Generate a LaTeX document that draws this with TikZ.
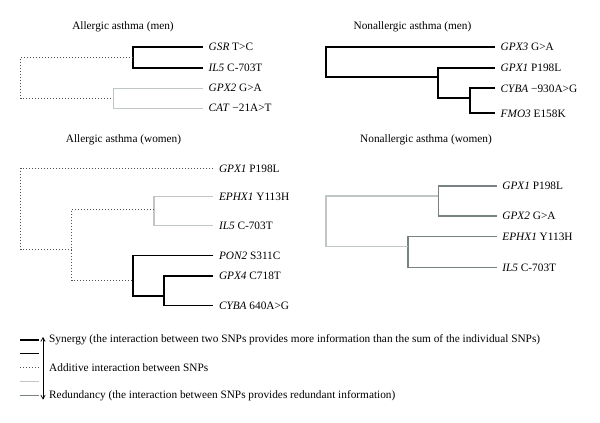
\documentclass[tikz,border=0pt]{standalone}
\usepackage{fontspec}
\setmainfont{Liberation Serif}
\usepackage{tikz}
\usetikzlibrary{arrows}

\definecolor{lightgrey}{RGB}{192,198,198}
\definecolor{midgrey}{RGB}{120,130,130}
\definecolor{dotgrey}{RGB}{80,80,80}

\begin{document}
\begin{tikzpicture}[x=1pt,y=-1pt,
  syn/.style={black,line width=1.9pt},
  weak/.style={black,line width=1pt},
  addit/.style={dotgrey,line width=1pt,dotted},
  redlight/.style={lightgrey,line width=1.4pt},
  redmid/.style={midgrey,line width=1.4pt},
  snp/.style={anchor=west,inner xsep=5.5pt,inner ysep=0pt,font=\fontsize{11.3}{13.5}\selectfont},
  ttl/.style={inner sep=0pt,font=\fontsize{11.3}{13.5}\selectfont},
  >=angle 60]
\useasboundingbox (0,0) rectangle (600,423);

% Allergic asthma (men)
\node[ttl] (amtitle) at (123,27) {Allergic asthma (men)};
\node[snp] (amgsr) at (203,47.3) {\textit{GSR} T>C};
\node[snp] (amil5) at (203,67.7) {\textit{IL5} C-703T};
\node[snp] (amgpx2) at (203,88.3) {\textit{GPX2} G>A};
\node[snp] (amcat) at (203,108.3) {\textit{CAT} −21A>T};
\coordinate (am1) at (133.3,57.5);
\coordinate (am2) at (113.3,98.3);
\coordinate (am0) at (20.7,78);
\draw[syn] (amgsr.west) -| (am1) |- (amil5.west);
\draw[redlight] (amgpx2.west) -| (am2) |- (amcat.west);
\draw[addit] (am1) -| (am0) |- (am2);

% Nonallergic asthma (men)
\node[ttl] (nmtitle) at (412.5,27) {Nonallergic asthma (men)};
\node[snp] (nmgpx3) at (495,47.3) {\textit{GPX3} G>A};
\node[snp] (nmgpx1) at (495,67.7) {\textit{GPX1} P198L};
\node[snp] (nmcyba) at (495,88.3) {\textit{CYBA} −930A>G};
\node[snp] (nmfmo3) at (495,113.3) {\textit{FMO3} E158K};
\coordinate (nm3) at (470,98.3);
\coordinate (nm2) at (438.3,77.3);
\coordinate (nm0) at (326,62);
\draw[syn] (nmcyba.west) -| (nm3) |- (nmfmo3.west);
\draw[syn] (nmgpx1.west) -| (nm2) |- (nm3);
\draw[syn] (nmgpx3.west) -| (nm0) |- (nm2);

% Allergic asthma (women)
\node[ttl] (awtitle) at (123.5,140) {Allergic asthma (women)};
\node[snp] (awgpx1) at (213.3,168.3) {\textit{GPX1} P198L};
\node[snp] (awephx1) at (213.3,196.5) {\textit{EPHX1} Y113H};
\node[snp] (awil5) at (213.3,225.5) {\textit{IL5} C-703T};
\node[snp] (awpon2) at (213.3,255.5) {\textit{PON2} S311C};
\node[snp] (awgpx4) at (213.3,276) {\textit{GPX4} C718T};
\node[snp] (awcyba) at (213.3,305.5) {\textit{CYBA} 640A>G};
\coordinate (aw4) at (164,296);
\coordinate (aw3) at (133.3,280.7);
\coordinate (aw2) at (154,209.3);
\coordinate (aw1) at (71.7,249.3);
\coordinate (aw0) at (20.7,210);
\draw[syn] (awgpx4.west) -| (aw4) |- (awcyba.west);
\draw[syn] (awpon2.west) -| (aw3) |- (aw4);
\draw[redlight] (awephx1.west) -| (aw2) |- (awil5.west);
\draw[addit] (aw2) -| (aw1) |- (aw3);
\draw[addit] (awgpx1.west) -| (aw0) |- (aw1);

% Nonallergic asthma (women)
\node[ttl] (nwtitle) at (426,140) {Nonallergic asthma (women)};
\node[snp] (nwgpx1) at (496.7,186) {\textit{GPX1} P198L};
\node[snp] (nwgpx2) at (496.7,216) {\textit{GPX2} G>A};
\node[snp] (nwephx1) at (496.7,236.7) {\textit{EPHX1} Y113H};
\node[snp] (nwil5) at (496.7,267.3) {\textit{IL5} C-703T};
\coordinate (nw1) at (438.3,196);
\coordinate (nw2) at (408,246.7);
\coordinate (nw0) at (326,220);
\draw[redmid] (nwgpx1.west) -| (nw1) |- (nwgpx2.west);
\draw[redmid] (nwephx1.west) -| (nw2) |- (nwil5.west);
\draw[redlight] (nw1) -| (nw0) |- (nw2);

% legend
\node[snp] (legsyn) at (43.5,340) {Synergy (the interaction between two SNPs provides more information than the sum of the individual SNPs)};
\node[snp] (legadd) at (43.5,367.7) {Additive interaction between SNPs};
\node[snp] (legred) at (43.5,395.7) {Redundancy (the interaction between SNPs provides redundant information)};
\draw[syn] (20,340) -- (39.3,340);
\draw[weak] (20,353.3) -- (39.3,353.3);
\draw[addit] (20,367.7) -- (39.3,367.7);
\draw[redlight] (20,381.7) -- (39.3,381.7);
\draw[redmid] (20,395.7) -- (39.3,395.7);
\draw[<->,line width=0.7pt] (43,337) -- (43,399.5);
\end{tikzpicture}
\end{document}
